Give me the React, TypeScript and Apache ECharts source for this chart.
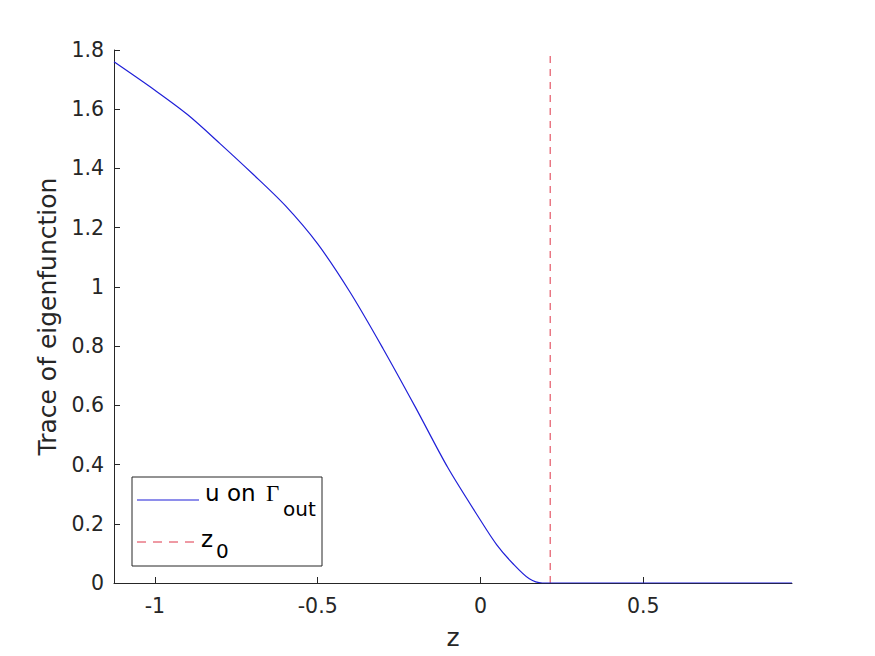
import React, { useEffect, useRef } from "react";
import * as echarts from "echarts";

const zValues = [
  -1.1256, -1.0, -0.9, -0.8, -0.7, -0.6, -0.5, -0.4, -0.3, -0.2, -0.1, 0.0,
  0.05, 0.1, 0.15, 0.19, 0.3, 0.5, 0.7, 0.9567,
];
const uValues = [
  1.76, 1.664, 1.582, 1.484, 1.382, 1.275, 1.145, 0.981, 0.793, 0.594, 0.389,
  0.212, 0.129, 0.065, 0.014, 0, 0, 0, 0, 0,
];
const z0 = 0.214;
const xTicks = [-1, -0.5, 0, 0.5];
const xMin = -1.1256;
const xMax = 0.9567;
const yMin = 0;
const yMax = 1.8;
const yStep = 0.2;

const FONT = "DejaVu Sans";
const AX = "#262626";
const BLUE = "#1f1fd8";
const RED = "#de3548";

export default function App() {
  const ref = useRef<HTMLDivElement>(null);
  useEffect(() => {
    if (!ref.current) return;
    const chart = echarts.init(ref.current, undefined, { renderer: "svg" });
    const lineData = zValues.map((z, i) => [z, uValues[i]]);
    chart.setOption({
      animation: false,
      backgroundColor: "#ffffff",
      grid: { left: 114, top: 50, right: 83, bottom: 73, containLabel: false },
      xAxis: {
        type: "value",
        min: xMin,
        max: xMax,
        name: "z",
        nameLocation: "middle",
        nameGap: 42,
        nameTextStyle: { fontFamily: FONT, fontSize: 25, color: AX },
        axisLine: { onZero: false, lineStyle: { color: AX, width: 1 } },
        axisTick: { inside: true, length: 6, lineStyle: { color: AX }, customValues: xTicks },
        axisLabel: {
          fontFamily: FONT,
          fontSize: 20.5,
          color: AX,
          margin: 12,
          customValues: xTicks,
          formatter: (v: number) => String(v),
        },
        splitLine: { show: false },
      },
      yAxis: {
        type: "value",
        min: yMin,
        max: yMax,
        interval: yStep,
        name: "Trace of eigenfunction",
        nameLocation: "middle",
        nameGap: 52,
        nameTextStyle: { fontFamily: FONT, fontSize: 25, color: AX },
        axisLine: { show: true, onZero: false, lineStyle: { color: AX, width: 1 } },
        axisTick: { show: true, inside: true, length: 6, lineStyle: { color: AX } },
        axisLabel: {
          fontFamily: FONT,
          fontSize: 20.5,
          color: AX,
          margin: 10,
          formatter: (v: number) => String(Math.round(v * 10) / 10),
        },
        splitLine: { show: false },
      },
      series: [
        {
          type: "line",
          data: lineData,
          showSymbol: false,
          symbol: "none",
          smooth: 0.3,
          lineStyle: { color: BLUE, width: 1.2 },
          z: 3,
        },
        {
          type: "line",
          data: [
            [z0, yMin],
            [z0, yMax],
          ],
          showSymbol: false,
          symbol: "none",
          lineStyle: { color: RED, width: 1, type: [7, 6] },
          z: 2,
        },
      ],
      graphic: [
        {
          type: "rect",
          shape: { x: 132, y: 477, width: 190, height: 89 },
          style: { fill: "#ffffff", stroke: AX, lineWidth: 1 },
          z: 10,
        },
        {
          type: "line",
          shape: { x1: 137, y1: 500, x2: 199, y2: 500 },
          style: { stroke: BLUE, lineWidth: 1.2 },
          z: 11,
        },
        {
          type: "line",
          shape: { x1: 137, y1: 542, x2: 195, y2: 542 },
          style: { stroke: RED, lineWidth: 1, lineDash: [9, 7] },
          z: 11,
        },
        {
          type: "text",
          x: 205,
          y: 504,
          style: { text: "u on", fontFamily: FONT, fontSize: 23, fill: "#000", verticalAlign: "bottom" },
          z: 11,
        },
        {
          type: "text",
          x: 266,
          y: 505,
          style: { text: "Γ", fontFamily: "Liberation Serif", fontSize: 23, fill: "#000", verticalAlign: "bottom" },
          z: 11,
        },
        {
          type: "text",
          x: 283,
          y: 519,
          style: { text: "out", fontFamily: FONT, fontSize: 20, fill: "#000", verticalAlign: "bottom" },
          z: 11,
        },
        {
          type: "text",
          x: 201,
          y: 550,
          style: { text: "z", fontFamily: FONT, fontSize: 23, fill: "#000", verticalAlign: "bottom" },
          z: 11,
        },
        {
          type: "text",
          x: 216,
          y: 561,
          style: { text: "0", fontFamily: FONT, fontSize: 20, fill: "#000", verticalAlign: "bottom" },
          z: 11,
        },
      ],
    });
    return () => chart.dispose();
  }, []);
  return (
    <div
      ref={ref}
      style={{ position: "fixed", left: 0, top: 0, width: 875, height: 656, background: "#fff" }}
    />
  );
}
